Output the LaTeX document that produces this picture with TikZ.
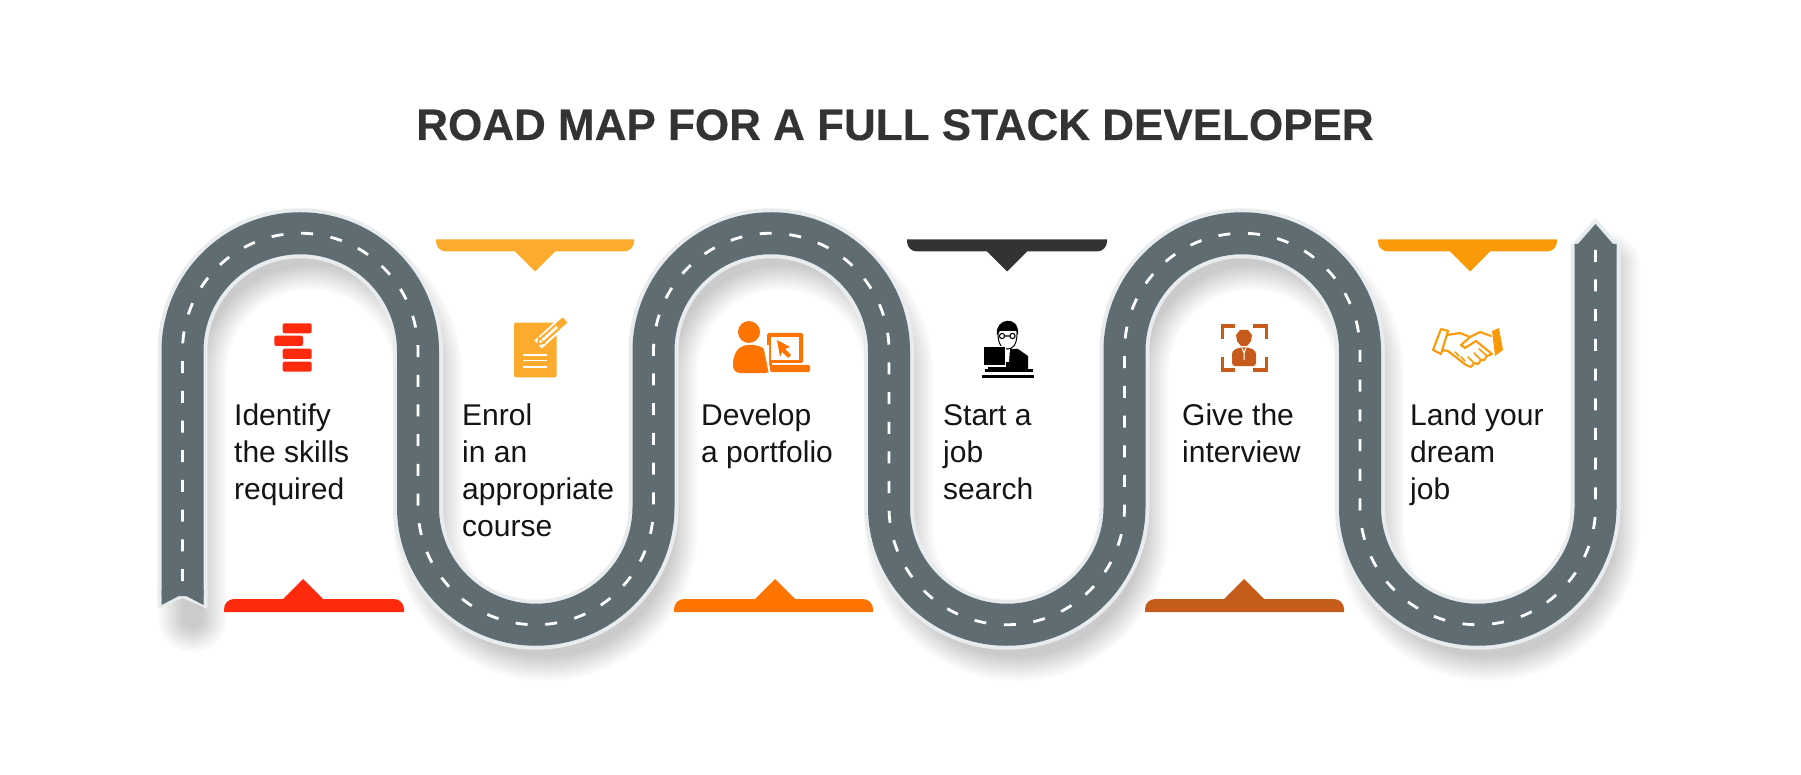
\documentclass[tikz,border=0pt]{standalone}
\usepackage{fontspec}
\setmainfont{Liberation Sans}
\newfontfamily\titlefont[BoldFeatures={FakeBold=0.35}]{Liberation Sans}
\usepackage[]{xcolor}
\definecolor{roadgray}{HTML}{5F6D72}
\definecolor{edgegray}{HTML}{E8ECEE}
\definecolor{stepred}{HTML}{FF2A0D}
\definecolor{stepyellow}{HTML}{FDAB2C}
\definecolor{steporange}{HTML}{FF7300}
\definecolor{stepdark}{HTML}{333333}
\definecolor{stepbrown}{HTML}{C55C1C}
\definecolor{stepamber}{HTML}{FA9A09}
\tikzset{bar/.style = {fill, draw = none}}
\tikzset{steptext/.style = {anchor = base west, inner sep = 0, align = left, text = black!92, font = \fontsize{30}{36.8}\selectfont}}
\tikzset{brick/.style = {fill = stepred, rounded corners = 2}}
\newcommand{\roadline}{(182.5,596) -- (182.5,351)
    \foreach \k in {1,2,3} {
        arc [start angle = 180, end angle = 360, radius = 117.75] -- ++(0,156)
        arc [start angle = 180, end angle = 0, radius = 117.75] -- ++(0,-156)
    } -- ++(0,-107)}
\begin{document}
\begin{tikzpicture}[x = 1pt, y = -1pt]
        \useasboundingbox [fill = white] (0,0) rectangle (1801,775);
        \node (title) [anchor = base, inner sep = 0, text = stepdark, font = \fontsize{44}{50}\selectfont\titlefont\bfseries] at (895,140) {ROAD MAP FOR A FULL STACK DEVELOPER};
        % soft shadow of the road
        \foreach \w in {20,22,...,70} {
            \draw [black, opacity = 0.0075, line width = \w, line cap = round, shift = {(10,22)}] \roadline;
        }
        \draw [edgegray, line width = 50] \roadline;
        \fill [edgegray] (157.5,590) -- (157.5,609) -- (182.5,598) -- (207.5,609) -- (207.5,590) -- cycle;
        \fill [edgegray] (1570.5,253) -- (1570.5,246) -- (1595.5,218) -- (1620.5,246) -- (1620.5,253) -- cycle;
        \draw [roadgray, line width = 42] \roadline;
        \fill [roadgray] (161.5,590) -- (161.5,605) -- (182.5,594) -- (203.5,605) -- (203.5,590) -- cycle;
        \fill [roadgray] (1574.5,248) -- (1595.5,224) -- (1616.5,248) -- cycle;
        \draw [white, line width = 2.8, dash pattern = on 12pt off 17.7pt, dash phase = 14.7pt] \roadline;
        % bars above the columns
        \foreach \xa/\xb/\xc/\col in {436/535/634/stepyellow, 907/1007/1107/stepdark, 1378/1470/1557/stepamber} {
            \fill [bar, \col] (\xa,239.5) [rounded corners = 10] -- (\xa,251.5) [sharp corners] -- (\xb-20,251.5) -- (\xb,271.5) -- (\xb+20,251.5) [rounded corners = 10] -- (\xc,251.5) [sharp corners] -- (\xc,239.5) -- cycle;
        }
        % bars below the columns
        \foreach \xa/\xb/\xc/\col in {224/303/404/stepred, 674/775/873/steporange, 1145/1244/1344/stepbrown} {
            \fill [bar, \col] (\xa,612) [rounded corners = 10] -- (\xa,599) [sharp corners] -- (\xb-20,599) -- (\xb,579) -- (\xb+20,599) [rounded corners = 10] -- (\xc,599) [sharp corners] -- (\xc,612) -- cycle;
        }
        % texts
        \node (skills) [steptext] at (234,499.3) {Identify\\the skills\\required};
        \node (course) [steptext] at (462,536.1) {Enrol\\in an\\appropriate\\course};
        \node (folio) [steptext] at (701,462.5) {Develop\\a portfolio};
        \node (search) [steptext] at (943,499.3) {Start a\\job\\search};
        \node (interview) [steptext] at (1182,462.5) {Give the\\interview};
        \node (land) [steptext] at (1410,499.3) {Land your\\dream\\job};
        % bricks
        \fill [brick] (282.7,323.3) rectangle (311.7,333.3);
        \fill [brick] (274.3,335.7) rectangle (303,346);
        \fill [brick] (282.7,348.7) rectangle (311.7,359);
        \fill [brick] (282.7,361.7) rectangle (311.7,371.7);
        % page and pencil
        \fill [stepyellow, rounded corners = 1.5] (514,322.7) rectangle (556.7,377.3);
        \foreach \y in {355,360.7,366.7} {
            \draw [white, line width = 1.6] (523.3,\y) -- (547.3,\y);
        }
        \draw [white, line width = 11] (538,344.5) -- (565,320);
        \draw [stepyellow, line width = 7] (541,341.5) -- (565,320);
        \draw [white, line width = 2.6] (541.5,341) -- (557,327);
        \fill [stepyellow] (536.7,345.7) -- (538.5,336.5) -- (545.5,343.5) -- cycle;
        \fill [white] (539.2,343.2) -- (540,339.5) -- (542.6,342.1) -- cycle;
        % person with laptop
        \fill [steporange] (749,332) circle [radius = 11];
        \fill [steporange, rounded corners = 7] (733,373) -- (733,356) -- (741,345) -- (760,345) -- (772,356) -- (772,373) -- cycle;
        \fill [steporange, rounded corners = 1.5] (767,333) rectangle (803,363);
        \fill [white] (771,337) rectangle (799,360);
        \fill [steporange] (777,340) -- (790,347) -- (785,349) -- (791,355) -- (788,358) -- (782,352) -- (780,357) -- cycle;
        \fill [white] (763,345) -- (769,345) -- (769,366) -- (776,366) -- (776,374) -- (769,374) -- cycle;
        \fill [steporange, rounded corners = 1.5] (770,365) rectangle (810,372);
        % man at the computer
        \fill [black] (988,370) -- (988,356) -- (997,349) -- (1018,349) -- (1028,356) -- (1028,370) -- cycle;
        \fill [white] (1005,349) -- (1010,349) -- (1009,362) -- (1006,362) -- cycle;
        \fill [white] (998,333) .. controls (998,346) and (1003,349) .. (1007.5,349) .. controls (1012,349) and (1017,346) .. (1017,333) -- cycle;
        \draw [black, line width = 1] (998,333) .. controls (998,346) and (1003,349) .. (1007.5,349) .. controls (1012,349) and (1017,346) .. (1017,333);
        \fill [black] (997,335) .. controls (994,318) and (1020,314) .. (1018,335) -- (1016,331) -- (1000,331) -- cycle;
        \draw [black, line width = 1.1] (1002,336) circle [radius = 2.6] (1012.5,336) circle [radius = 2.6] (1004.6,336) -- (1010,336);
        \fill [black] (983,347) rectangle (1005,366);
        \draw [white, line width = 1] (983,347) rectangle (1005,366);
        \fill [black] (985,369) rectangle (1033,372);
        \fill [black] (982,374.5) rectangle (1034,378);
        % face in the frame
        \draw [stepbrown, line width = 3.3] (1222.4,339) -- (1222.4,326) -- (1235,326) (1253,326) -- (1266.4,326) -- (1266.4,339);
        \draw [stepbrown, line width = 3.3] (1222.4,357) -- (1222.4,370) -- (1235,370) (1253,370) -- (1266.4,370) -- (1266.4,357);
        \fill [stepbrown] (1240,330) -- (1248,330) -- (1252,335) -- (1251,341) -- (1247,346) -- (1241,346) -- (1237,341) -- (1236,335) -- cycle;
        \fill [stepbrown, rounded corners = 3] (1232,366) -- (1232,351) -- (1239,347.5) -- (1249,347.5) -- (1256,351) -- (1256,366) -- cycle;
        \draw [white, line width = 1] (1242,348) -- (1244,353) -- (1246,348) (1244,352) -- (1244,360);
        % handshake
        \draw [stepamber, line width = 2.1, line join = round, line cap = round] (1441,329) -- (1448,331) -- (1441,354) -- (1433,350) -- cycle;
        \fill [stepamber] (1492,331) -- (1499,328) -- (1503,350) -- (1495,356) -- cycle;
        \draw [stepamber, line width = 2.1, line join = round, line cap = round] (1447,335) -- (1460,333) -- (1470,337) -- (1480,332) -- (1491,336);
        \draw [stepamber, line width = 2.1, line join = round, line cap = round] (1470,337) -- (1461,345) -- (1465,348) -- (1476,341) -- (1492,354);
        \draw [stepamber, line width = 2.1, line join = round, line cap = round] (1442,350) -- (1448,351) -- (1466,365) -- (1471,367) -- (1474,363) -- (1478,364) -- (1481,360) -- (1484,360) -- (1487,356) -- (1492,354);
        \draw [stepamber, line width = 1.6, line cap = round] (1459,356) -- (1455,352) (1465,361) -- (1461,357) (1474,363) -- (1468,357) (1481,360) -- (1474,353) (1487,356) -- (1479,349);
    \end{tikzpicture}
\end{document}
